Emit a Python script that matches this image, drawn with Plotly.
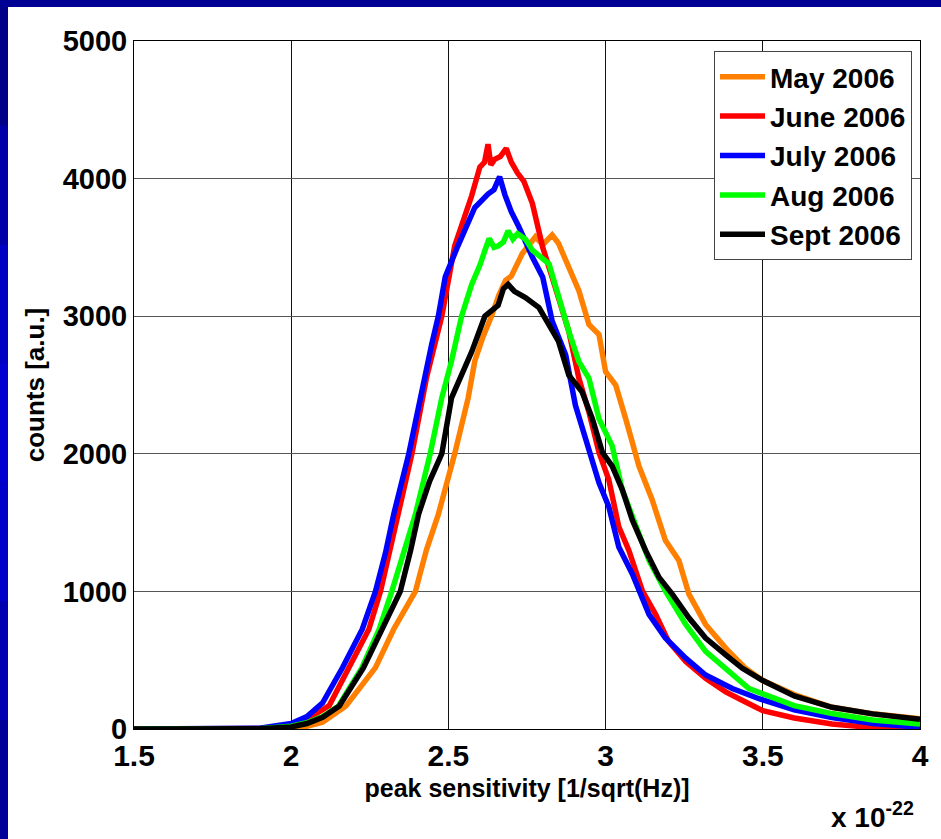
import plotly.graph_objects as go

# ---------------- data (x in units of 1e-22 1/sqrt(Hz)) ----------------
may_x = [1.5, 1.9, 2.0, 2.05, 2.10, 2.174, 2.268, 2.326, 2.395, 2.43, 2.468, 2.52, 2.563, 2.584, 2.61,
         2.637, 2.66, 2.682, 2.70, 2.735, 2.777, 2.80, 2.83, 2.85, 2.873, 2.915, 2.947, 2.979, 3.0,
         3.032, 3.064, 3.106, 3.148, 3.19, 3.233, 3.265, 3.318, 3.382, 3.445, 3.5, 3.6, 3.72, 3.85, 4.0]
may_y = [0, 0, 2, 20, 50, 167, 446, 725, 1000, 1300, 1560, 2000, 2407, 2675, 2850,
         3000, 3150, 3260, 3290, 3455, 3577, 3520, 3590, 3530, 3405, 3185, 2940, 2867, 2597,
         2500, 2254, 1911, 1666, 1372, 1225, 980, 760, 588, 441, 352, 250, 158, 110, 75]

june_x = [1.5, 1.9, 2.0, 2.05, 2.121, 2.184, 2.247, 2.284, 2.33, 2.384, 2.43, 2.479, 2.52, 2.574, 2.60,
          2.615, 2.626, 2.635, 2.647, 2.665, 2.684, 2.70, 2.72, 2.74, 2.767, 2.80, 2.84, 2.883, 2.915,
          2.947, 2.979, 3.01, 3.042, 3.074, 3.117, 3.159, 3.2, 3.255, 3.318, 3.382, 3.445, 3.5, 3.6,
          3.72, 3.85, 4.0]
june_y = [0, 3, 30, 70, 170, 445, 725, 1000, 1450, 2000, 2550, 3000, 3510, 3875, 4084,
          4120, 4250, 4100, 4140, 4160, 4220, 4120, 4040, 3980, 3820, 3500, 3210, 2890, 2548,
          2303, 2009, 1813, 1470, 1298, 1004, 833, 637, 490, 368, 270, 196, 133, 80,
          36, 10, 0]

july_x = [1.5, 1.8, 1.9, 2.0, 2.05, 2.10, 2.163, 2.226, 2.268, 2.30, 2.326, 2.374, 2.41, 2.447, 2.468,
          2.49, 2.53, 2.584, 2.626, 2.645, 2.663, 2.68, 2.70, 2.724, 2.767, 2.80, 2.83, 2.873, 2.904,
          2.936, 2.979, 3.01, 3.042, 3.085, 3.138, 3.19, 3.255, 3.318, 3.403, 3.488, 3.6, 3.72, 3.85, 4.0]
july_y = [0, 0, 5, 40, 90, 190, 445, 725, 1000, 1281, 1560, 2000, 2407, 2797, 3000,
          3287, 3510, 3790, 3888, 3920, 4014, 3880, 3760, 3650, 3430, 3283, 2965, 2720, 2352,
          2107, 1789, 1617, 1323, 1127, 833, 661, 515, 392, 294, 220, 140, 83, 40, 12]

aug_x = [1.5, 1.9, 2.0, 2.05, 2.10, 2.15, 2.225, 2.28, 2.32, 2.36, 2.395, 2.442, 2.479, 2.51, 2.542,
         2.574, 2.60, 2.621, 2.63, 2.645, 2.658, 2.675, 2.69, 2.705, 2.72, 2.745, 2.767, 2.82, 2.85,
         2.883, 2.915, 2.947, 2.979, 3.021, 3.053, 3.095, 3.138, 3.19, 3.255, 3.318, 3.392, 3.456,
         3.5, 3.6, 3.72, 3.85, 4.0]
aug_y = [0, 2, 20, 45, 90, 165, 446, 725, 1000, 1300, 1560, 2000, 2407, 2675, 3000,
         3231, 3370, 3510, 3565, 3500, 3510, 3540, 3621, 3560, 3600, 3560, 3480, 3380, 3136,
         2890, 2670, 2548, 2254, 2058, 1740, 1495, 1225, 1004, 760, 564, 417, 294,
         255, 170, 112, 65, 36]

sept_x = [1.5, 1.9, 2.0, 2.05, 2.10, 2.153, 2.23, 2.29, 2.347, 2.38, 2.405, 2.44, 2.479, 2.51, 2.545,
          2.574, 2.616, 2.64, 2.658, 2.675, 2.69, 2.71, 2.745, 2.788, 2.82, 2.85, 2.883, 2.925, 2.958,
          2.99, 3.021, 3.053, 3.085, 3.127, 3.17, 3.212, 3.265, 3.318, 3.382, 3.435, 3.5, 3.6, 3.72,
          3.85, 4.0]
sept_y = [0, 2, 15, 40, 85, 167, 446, 725, 1000, 1300, 1560, 1800, 2000, 2407, 2600,
          2741, 3000, 3050, 3078, 3200, 3231, 3180, 3136, 3063, 2940, 2818, 2572, 2450, 2254,
          2009, 1911, 1740, 1519, 1298, 1102, 980, 808, 661, 539, 441, 352, 240, 158,
          110, 70]

series_names = ["May 2006", "June 2006", "July 2006", "Aug 2006", "Sept 2006"]
series_colors = ["#FF8000", "#FF0000", "#0000FF", "#00FF00", "#000000"]

x_ticks = [1.5, 2, 2.5, 3, 3.5, 4]
x_tick_labels = ["1.5", "2", "2.5", "3", "3.5", "4"]
y_ticks = [0, 1000, 2000, 3000, 4000, 5000]
y_tick_labels = ["0", "1000", "2000", "3000", "4000", "5000"]

# ---------------- figure ----------------
W, H = 941, 839
ML, MR, MT, MB = 134, 21, 41, 110
PW, PH = W - ML - MR, H - MT - MB

def px_x(p):
    return (p - ML) / PW

def px_y(p):
    return (H - MB - p) / PH

FONT = "Liberation Sans, Arial, sans-serif"

fig = go.Figure()
xs = [may_x, june_x, july_x, aug_x, sept_x]
ys = [may_y, june_y, july_y, aug_y, sept_y]
for name, col, x, y in zip(series_names, series_colors, xs, ys):
    fig.add_trace(go.Scatter(x=x, y=y, mode="lines", name=name,
                             line=dict(color=col, width=5.5)))

shapes = []
# white panel
shapes.append(dict(type="rect", xref="paper", yref="paper", layer="below",
                   x0=px_x(8), x1=px_x(W + 5), y0=px_y(H + 5), y1=px_y(7),
                   fillcolor="white", line=dict(width=0)))
# left stripe (vertical gradient approximation)
bands = ["#000088", "#0000A8", "#0000C4", "#0000D0", "#0000C8", "#0000B0", "#000098"]
n = len(bands)
for i, c in enumerate(bands):
    y0p = 7 + i * (H - 7) / n
    y1p = 7 + (i + 1) * (H - 7) / n
    shapes.append(dict(type="rect", xref="paper", yref="paper", layer="below",
                       x0=px_x(-2), x1=px_x(8), y0=px_y(y1p), y1=px_y(y0p),
                       fillcolor=c, line=dict(width=0)))

fig.update_layout(
    width=W, height=H,
    margin=dict(l=ML, r=MR, t=MT, b=MB, pad=0),
    paper_bgcolor="#000094",
    plot_bgcolor="white",
    shapes=shapes,
    showlegend=True,
    legend=dict(x=px_x(912), y=px_y(51), xanchor="right", yanchor="top",
                bgcolor="white", bordercolor="#444444", borderwidth=1,
                font=dict(family=FONT, size=28, color="black", weight="bold"),
                itemwidth=45, tracegroupgap=0),
    font=dict(family=FONT, color="black"),
)

fig.update_xaxes(
    range=[1.5, 4], tickmode="array", tickvals=x_ticks, ticktext=x_tick_labels,
    showgrid=True, gridcolor="#111111", gridwidth=1, zeroline=False,
    showline=True, linecolor="black", linewidth=1, mirror=True, ticks="",
    tickfont=dict(family=FONT, size=30, color="black", weight="bold"),
    title=dict(text="peak sensitivity [1/sqrt(Hz)]", standoff=8,
               font=dict(family=FONT, size=25, color="black", weight="bold")),
)
fig.update_yaxes(
    range=[0, 5000], tickmode="array", tickvals=y_ticks, ticktext=y_tick_labels,
    showgrid=True, gridcolor="#555555", gridwidth=1, zeroline=False,
    showline=True, linecolor="black", linewidth=1, mirror=True, ticks="",
    tickfont=dict(family=FONT, size=29, color="black", weight="bold"),
    title=dict(text="counts [a.u.]", standoff=10,
               font=dict(family=FONT, size=26, color="black", weight="bold")),
)

fig.add_annotation(xref="paper", yref="paper", x=px_x(916), y=px_y(815),
                   xanchor="right", yanchor="middle", showarrow=False,
                   text="x 10<sup>-22</sup>",
                   font=dict(family=FONT, size=28, color="black", weight="bold"))

fig.write_html("out.html",
               config={"displayModeBar": False},
               post_script="document.body.style.margin='0';document.body.style.padding='0';"
                           "document.body.style.background='white';")
